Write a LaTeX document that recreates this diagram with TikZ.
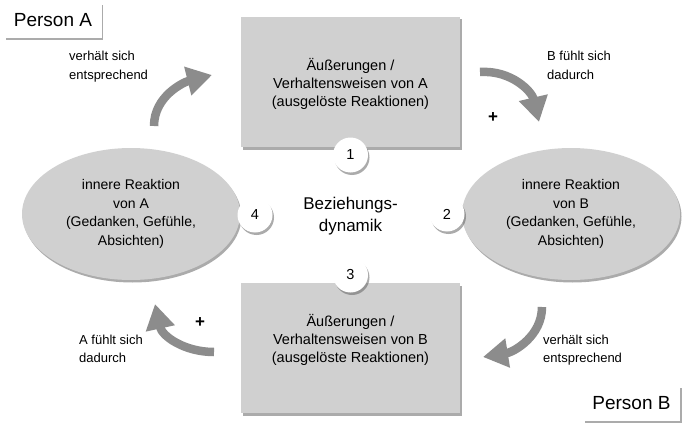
\documentclass[tikz,border=0pt]{standalone}
\usepackage{fontspec}
\setmainfont{Liberation Sans}
\usetikzlibrary{shapes.geometric,shadows,arrows.meta}
\definecolor{boxgray}{HTML}{D0D0D0}
\definecolor{arrowgray}{HTML}{8C8C8C}
\begin{document}
\begin{tikzpicture}[x=1pt,y=-1pt,
  shad/.style={drop shadow={shadow xshift=1.5pt,shadow yshift=-2.5pt,opacity=0.5,fill=black!65}},
  actbox/.style={rectangle, fill=boxgray, minimum width=219pt, minimum height=130pt, shad, inner sep=0pt},
  reac/.style={ellipse, fill=boxgray, minimum width=218pt, minimum height=132pt, shad, inner sep=0pt,
    font=\fontsize{14}{18.5}\selectfont, align=center},
  num/.style={circle, fill=white, minimum size=35pt, inner sep=0pt, font=\fontsize{14.5}{16}\selectfont, shad},
  tag/.style={rectangle, fill=white, minimum width=97pt, minimum height=35pt, inner sep=0pt,
    font=\fontsize{19}{21}\selectfont, shad},
  body/.style={font=\fontsize{14.5}{18}\selectfont, align=center},
  lbl/.style={font=\fontsize{13}{18.5}\selectfont, align=left, anchor=west, inner sep=0pt},
  flow/.style={draw=arrowgray, line width=8.5pt, -{Triangle[length=25pt,width=28pt]}},
  plus/.style={font=\fontsize{17}{17}\selectfont\bfseries}
]
\useasboundingbox (0,0) rectangle (685,428);
\fill[white] (0,0) rectangle (685,428);

% tags
\node[tag] (pa) at (53,20.5) {Person A};
\node[tag] (pb) at (631.5,403) {Person B};

% action boxes
\node[actbox] (b1) at (350.5,82) {};
\node[body] (t1) at (350.5,84) {Äußerungen /\\Verhaltensweisen von A\\(ausgelöste Reaktionen)};
\node[actbox] (b3) at (350.5,348) {};
\node[body] (t3) at (350.5,340) {Äußerungen /\\Verhaltensweisen von B\\(ausgelöste Reaktionen)};

% reactions
\node[reac] (ra) at (131,214) {innere Reaktion\\von A\\(Gedanken, Gefühle,\\Absichten)};
\node[reac] (rb) at (571,214) {innere Reaktion\\von B\\(Gedanken, Gefühle,\\Absichten)};

% numbers
\node[num] (n1) at (350.5,155) {1};
\node[num] (n2) at (447,214) {2};
\node[num] (n3) at (350.5,275) {3};
\node[num] (n4) at (255,215) {4};

% centre
\node[font=\fontsize{17}{22}\selectfont, align=center] (bd) at (350.5,216) {Beziehungs-\\dynamik};

% labels
\node[lbl] (l1) at (69,66.5) {verhält sich\\entsprechend};
\node[lbl] (l2) at (547,65.5) {B fühlt sich\\dadurch};
\node[lbl] (l3) at (543,350) {verhält sich\\entsprechend};
\node[lbl] (l4) at (79,349) {A fühlt sich\\dadurch};

\node[plus] (p1) at (493,118) {+};
\node[plus] (p2) at (200,323) {+};

% arrows
\coordinate (a1s) at (154,126); \coordinate (a1e) at (212,75);
\coordinate (a2s) at (480,72);  \coordinate (a2e) at (539,122);
\coordinate (a3s) at (542,307); \coordinate (a3e) at (483,357);
\coordinate (a4s) at (214,352); \coordinate (a4e) at (155,304);
\draw[flow] (a1s) .. controls (154,96) and (184,82) .. (a1e);
\draw[flow] (a2s) .. controls (512,70) and (532,92) .. (a2e);
\draw[flow] (a3s) .. controls (542,336) and (514,352) .. (a3e);
\draw[flow] (a4s) .. controls (184,352) and (162,336) .. (a4e);
\end{tikzpicture}
\end{document}
